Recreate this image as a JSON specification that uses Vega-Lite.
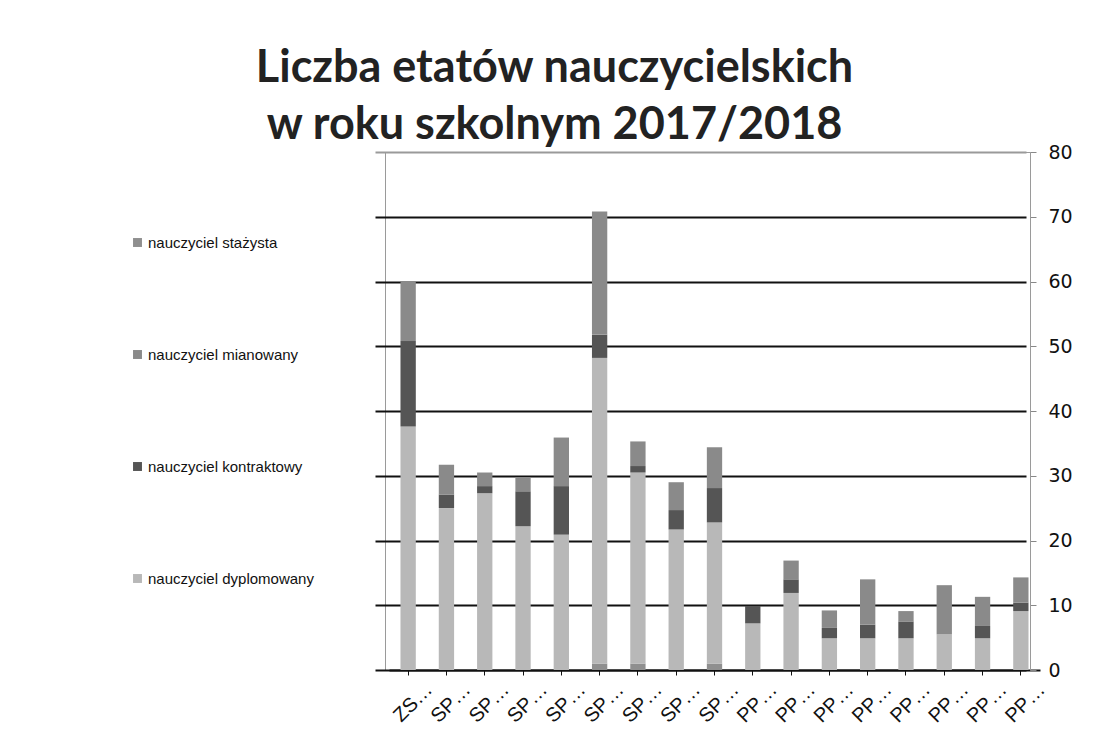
{
  "$schema": "https://vega.github.io/schema/vega-lite/v6.json",
  "width": 645,
  "height": 518,
  "autosize": {"type": "none"},
  "padding": {"left": 385, "top": 152, "right": 65, "bottom": 65},
  "background": "white",
  "title": {
    "text": ["Liczba etatów nauczycielskich", "w roku szkolnym 2017/2018"],
    "font": "Lato",
    "fontSize": 45,
    "fontWeight": "bold",
    "color": "#222222",
    "anchor": "middle",
    "frame": "group",
    "dx": -153,
    "dy": 13,
    "lineHeight": 57,
    "offset": 8
  },
  "data": {
    "values": [
      {"szkola": "ZS 1", "stopien": "nauczyciel dyplomowany", "kolejnosc": 2, "etaty": 37.6},
      {"szkola": "ZS 1", "stopien": "nauczyciel kontraktowy", "kolejnosc": 3, "etaty": 13.2},
      {"szkola": "ZS 1", "stopien": "nauczyciel mianowany", "kolejnosc": 4, "etaty": 9.2},
      {"szkola": "SP 1", "stopien": "nauczyciel dyplomowany", "kolejnosc": 2, "etaty": 25.0},
      {"szkola": "SP 1", "stopien": "nauczyciel kontraktowy", "kolejnosc": 3, "etaty": 2.1},
      {"szkola": "SP 1", "stopien": "nauczyciel mianowany", "kolejnosc": 4, "etaty": 4.6},
      {"szkola": "SP 2", "stopien": "nauczyciel dyplomowany", "kolejnosc": 2, "etaty": 27.3},
      {"szkola": "SP 2", "stopien": "nauczyciel kontraktowy", "kolejnosc": 3, "etaty": 1.1},
      {"szkola": "SP 2", "stopien": "nauczyciel mianowany", "kolejnosc": 4, "etaty": 2.1},
      {"szkola": "SP 3", "stopien": "nauczyciel dyplomowany", "kolejnosc": 2, "etaty": 22.2},
      {"szkola": "SP 3", "stopien": "nauczyciel kontraktowy", "kolejnosc": 3, "etaty": 5.4},
      {"szkola": "SP 3", "stopien": "nauczyciel mianowany", "kolejnosc": 4, "etaty": 2.2},
      {"szkola": "SP 4", "stopien": "nauczyciel dyplomowany", "kolejnosc": 2, "etaty": 20.9},
      {"szkola": "SP 4", "stopien": "nauczyciel kontraktowy", "kolejnosc": 3, "etaty": 7.5},
      {"szkola": "SP 4", "stopien": "nauczyciel mianowany", "kolejnosc": 4, "etaty": 7.5},
      {"szkola": "SP 5", "stopien": "nauczyciel stażysta", "kolejnosc": 1, "etaty": 1.0},
      {"szkola": "SP 5", "stopien": "nauczyciel dyplomowany", "kolejnosc": 2, "etaty": 47.2},
      {"szkola": "SP 5", "stopien": "nauczyciel kontraktowy", "kolejnosc": 3, "etaty": 3.6},
      {"szkola": "SP 5", "stopien": "nauczyciel mianowany", "kolejnosc": 4, "etaty": 19.0},
      {"szkola": "SP 6", "stopien": "nauczyciel stażysta", "kolejnosc": 1, "etaty": 1.0},
      {"szkola": "SP 6", "stopien": "nauczyciel dyplomowany", "kolejnosc": 2, "etaty": 29.5},
      {"szkola": "SP 6", "stopien": "nauczyciel kontraktowy", "kolejnosc": 3, "etaty": 1.0},
      {"szkola": "SP 6", "stopien": "nauczyciel mianowany", "kolejnosc": 4, "etaty": 3.8},
      {"szkola": "SP 7", "stopien": "nauczyciel dyplomowany", "kolejnosc": 2, "etaty": 21.7},
      {"szkola": "SP 7", "stopien": "nauczyciel kontraktowy", "kolejnosc": 3, "etaty": 3.0},
      {"szkola": "SP 7", "stopien": "nauczyciel mianowany", "kolejnosc": 4, "etaty": 4.3},
      {"szkola": "SP 8", "stopien": "nauczyciel stażysta", "kolejnosc": 1, "etaty": 1.0},
      {"szkola": "SP 8", "stopien": "nauczyciel dyplomowany", "kolejnosc": 2, "etaty": 21.8},
      {"szkola": "SP 8", "stopien": "nauczyciel kontraktowy", "kolejnosc": 3, "etaty": 5.3},
      {"szkola": "SP 8", "stopien": "nauczyciel mianowany", "kolejnosc": 4, "etaty": 6.3},
      {"szkola": "PP 1", "stopien": "nauczyciel dyplomowany", "kolejnosc": 2, "etaty": 7.2},
      {"szkola": "PP 1", "stopien": "nauczyciel kontraktowy", "kolejnosc": 3, "etaty": 2.7},
      {"szkola": "PP 2", "stopien": "nauczyciel dyplomowany", "kolejnosc": 2, "etaty": 11.9},
      {"szkola": "PP 2", "stopien": "nauczyciel kontraktowy", "kolejnosc": 3, "etaty": 2.1},
      {"szkola": "PP 2", "stopien": "nauczyciel mianowany", "kolejnosc": 4, "etaty": 2.9},
      {"szkola": "PP 3", "stopien": "nauczyciel dyplomowany", "kolejnosc": 2, "etaty": 4.9},
      {"szkola": "PP 3", "stopien": "nauczyciel kontraktowy", "kolejnosc": 3, "etaty": 1.6},
      {"szkola": "PP 3", "stopien": "nauczyciel mianowany", "kolejnosc": 4, "etaty": 2.7},
      {"szkola": "PP 4", "stopien": "nauczyciel dyplomowany", "kolejnosc": 2, "etaty": 4.9},
      {"szkola": "PP 4", "stopien": "nauczyciel kontraktowy", "kolejnosc": 3, "etaty": 2.1},
      {"szkola": "PP 4", "stopien": "nauczyciel mianowany", "kolejnosc": 4, "etaty": 7.0},
      {"szkola": "PP 5", "stopien": "nauczyciel dyplomowany", "kolejnosc": 2, "etaty": 4.9},
      {"szkola": "PP 5", "stopien": "nauczyciel kontraktowy", "kolejnosc": 3, "etaty": 2.6},
      {"szkola": "PP 5", "stopien": "nauczyciel mianowany", "kolejnosc": 4, "etaty": 1.6},
      {"szkola": "PP 6", "stopien": "nauczyciel dyplomowany", "kolejnosc": 2, "etaty": 5.5},
      {"szkola": "PP 6", "stopien": "nauczyciel mianowany", "kolejnosc": 4, "etaty": 7.6},
      {"szkola": "PP 7", "stopien": "nauczyciel dyplomowany", "kolejnosc": 2, "etaty": 4.9},
      {"szkola": "PP 7", "stopien": "nauczyciel kontraktowy", "kolejnosc": 3, "etaty": 1.9},
      {"szkola": "PP 7", "stopien": "nauczyciel mianowany", "kolejnosc": 4, "etaty": 4.5},
      {"szkola": "PP 8", "stopien": "nauczyciel dyplomowany", "kolejnosc": 2, "etaty": 9.1},
      {"szkola": "PP 8", "stopien": "nauczyciel kontraktowy", "kolejnosc": 3, "etaty": 1.3},
      {"szkola": "PP 8", "stopien": "nauczyciel mianowany", "kolejnosc": 4, "etaty": 3.9}
    ]
  },
  "mark": {"type": "bar"},
  "encoding": {
    "x": {
      "field": "szkola",
      "type": "nominal",
      "sort": null,
      "scale": {"paddingInner": 0.6, "paddingOuter": 0.3, "range": [4, 655]},
      "axis": {
        "title": null,
        "labelAngle": -45,
        "labelFont": "Liberation Sans",
        "labelFontSize": 20,
        "labelColor": "#111111",
        "labelExpr": "slice(datum.label, 0, 2) + '…'",
        "labelPadding": 4,
        "labelOffset": 14,
        "domainColor": "#111111",
        "domainWidth": 2,
        "tickColor": "#111111",
        "tickSize": 5,
        "grid": false
      }
    },
    "y": {
      "field": "etaty",
      "type": "quantitative",
      "stack": "zero",
      "scale": {"domain": [0, 80], "nice": false},
      "axis": {
        "orient": "right",
        "title": null,
        "values": [0, 10, 20, 30, 40, 50, 60, 70, 80],
        "labelFont": "DejaVu Sans",
        "labelFontSize": 19,
        "labelColor": "#111111",
        "labelPadding": 12,
        "tickSize": 6,
        "tickColor": "#888888",
        "domainColor": "#9a9a9a",
        "domainWidth": 1,
        "gridColor": {"condition": {"test": "datum.value == 80", "value": "#9a9a9a"}, "value": "#111111"},
        "gridWidth": 1.8
      }
    },
    "color": {
      "field": "stopien",
      "type": "nominal",
      "scale": {
        "domain": ["nauczyciel stażysta", "nauczyciel mianowany", "nauczyciel kontraktowy", "nauczyciel dyplomowany"],
        "range": ["#8f8f8f", "#8a8a8a", "#555555", "#b8b8b8"]
      },
      "legend": {
        "title": null,
        "orient": "none",
        "legendX": -255,
        "legendY": 83,
        "direction": "vertical",
        "labelFont": "Liberation Sans",
        "labelFontSize": 15,
        "labelColor": "#111111",
        "labelLimit": 0,
        "symbolType": "square",
        "symbolSize": 80,
        "symbolStrokeWidth": 0,
        "rowPadding": 96,
        "labelOffset": 3
      }
    },
    "order": {"field": "kolejnosc", "type": "quantitative"}
  },
  "config": {"view": {"stroke": "#9a9a9a", "strokeWidth": 1}}
}
